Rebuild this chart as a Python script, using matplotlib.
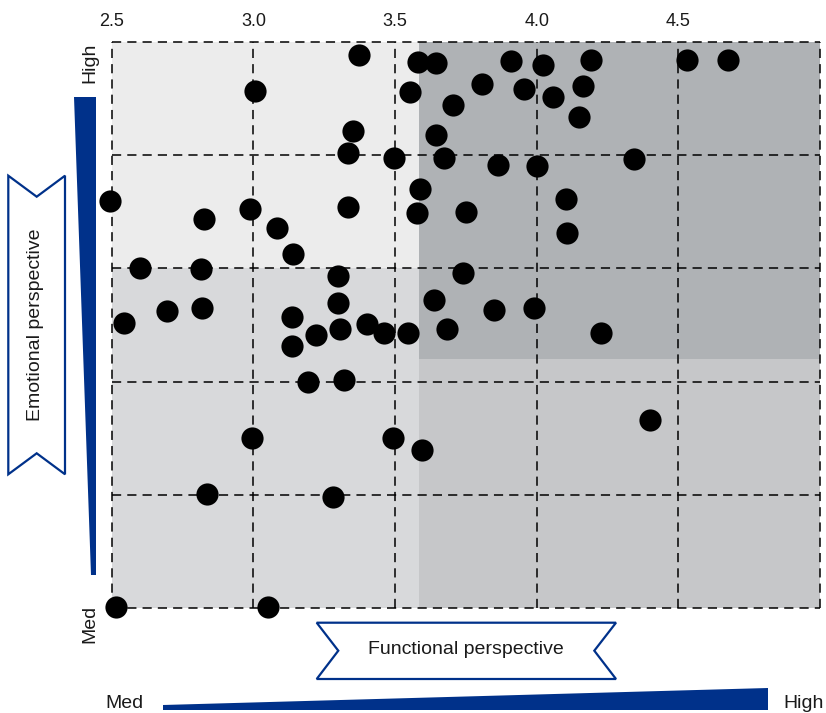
import matplotlib
matplotlib.use("Agg")
import matplotlib.pyplot as plt
from matplotlib.patches import Polygon

plt.rcParams['font.family'] = ['Liberation Sans', 'DejaVu Sans']

# ---- data ----
functional = [3.373, 3.006, 3.350, 3.333, 3.496, 2.494, 2.988, 2.825, 3.333, 3.084,
              3.141, 2.599, 2.814, 3.299, 2.694, 2.819, 2.542, 3.299, 3.135, 3.220,
              3.305, 3.400, 3.462, 3.547, 3.135, 3.192, 3.321, 2.994, 3.492, 3.594,
              2.836, 3.282, 2.514, 3.050, 4.400, 3.582, 3.643, 3.909, 4.023, 4.191,
              4.531, 4.676, 3.553, 3.807, 3.954, 4.163, 4.056, 3.705, 4.148, 3.643,
              3.672, 3.864, 4.000, 4.344, 3.588, 3.576, 3.751, 4.102, 4.108, 3.741,
              3.638, 3.848, 3.989, 3.683, 4.227]
emotional = [4.941, 4.785, 4.608, 4.508, 4.489, 4.299, 4.262, 4.220, 4.270, 4.177,
             4.065, 4.000, 3.996, 3.966, 3.811, 3.825, 3.760, 3.846, 3.784, 3.706,
             3.732, 3.754, 3.713, 3.713, 3.659, 3.500, 3.506, 3.252, 3.252, 3.197,
             3.005, 2.992, 2.504, 2.504, 3.330, 4.913, 4.906, 4.915, 4.898, 4.920,
             4.920, 4.920, 4.780, 4.814, 4.794, 4.807, 4.757, 4.722, 4.667, 4.588,
             4.486, 4.458, 4.451, 4.483, 4.351, 4.243, 4.249, 4.305, 4.156, 3.981,
             3.862, 3.818, 3.825, 3.732, 3.713]
x_ticks = [2.5, 3.0, 3.5, 4.0, 4.5]
x_tick_labels = ["2.5", "3.0", "3.5", "4.0", "4.5"]
grid_x = [2.5, 3.0, 3.5, 4.0, 4.5, 5.0]
grid_y = [2.5, 3.0, 3.5, 4.0, 4.5, 5.0]
x_split = 3.585      # functional threshold of shaded zones
y_split_left = 4.0   # emotional threshold (left zone)
y_split_right = 3.6  # emotional threshold (right zone)

W, H = 826, 713
fig = plt.figure(figsize=(W / 100, H / 100), dpi=100)
ax = fig.add_axes([111.7 / W, 1 - 608 / H, (820 - 111.7) / W, (608 - 42) / H])
ax.set_xlim(2.5, 5.0)
ax.set_ylim(2.5, 5.0)

# shaded zones
ax.fill_between([2.5, x_split], 2.5, y_split_left, color="#d8d9db", lw=0, zorder=0)
ax.fill_between([2.5, x_split], y_split_left, 5.0, color="#ececec", lw=0, zorder=0)
ax.fill_between([x_split, 5.0], y_split_right, 5.0, color="#afb2b5", lw=0, zorder=0)
ax.fill_between([x_split, 5.0], 2.5, y_split_right, color="#c6c7c9", lw=0, zorder=0)

# dashed grid
for gx in grid_x:
    ax.axvline(gx, color="black", lw=1.1, ls=(0, (6, 4)), zorder=1, clip_on=False)
for gy in grid_y:
    ax.axhline(gy, color="black", lw=1.1, ls=(0, (6, 4)), zorder=1, clip_on=False)

ax.scatter(functional, emotional, s=255, color="black", zorder=3, clip_on=False, lw=0)

for sp in ax.spines.values():
    sp.set_visible(False)
ax.xaxis.tick_top()
ax.set_xticks(x_ticks)
ax.set_xticklabels(x_tick_labels, fontsize=13, color="#1a1a1a")
ax.tick_params(axis="x", length=0, pad=8.8)
ax.set_yticks([])

def P(x, y):
    return (x / W, 1 - y / H)

blue = "#00318a"
FS = 14

# vertical wedge
fig.add_artist(Polygon([P(74, 97), P(96, 97), P(96, 575), P(91, 575)],
                       closed=True, transform=fig.transFigure, color=blue, lw=0))
# horizontal wedge
fig.add_artist(Polygon([P(163, 705), P(768, 688), P(768, 710), P(163, 710)],
                       closed=True, transform=fig.transFigure, color=blue, lw=0))

# emotional banner (vertical ribbon)
fig.add_artist(Polygon([P(8.3, 175.7), P(36.7, 196.7), P(65, 175.7), P(65, 474.3),
                        P(36.7, 453.3), P(8.3, 474.3)],
                       closed=True, transform=fig.transFigure, facecolor="white",
                       edgecolor=blue, lw=1.6))
fig.text(*P(36, 325), "Emotional perspective", rotation=90, ha="center", va="center",
         fontsize=FS, color="#1a1a1a")

# functional banner (horizontal ribbon)
fig.add_artist(Polygon([P(316.7, 622.7), P(616, 622.7), P(594.3, 650.7), P(616, 679),
                        P(316.7, 679), P(338.3, 650.7)],
                       closed=True, transform=fig.transFigure, facecolor="white",
                       edgecolor=blue, lw=1.6))
fig.text(*P(466, 650), "Functional perspective", ha="center", va="center",
         fontsize=FS, color="#1a1a1a")

# axis end labels
fig.text(*P(89.5, 43), "High", rotation=90, ha="center", va="top", fontsize=FS, color="#1a1a1a")
fig.text(*P(89.5, 605), "Med", rotation=90, ha="center", va="top", fontsize=FS, color="#1a1a1a")
fig.text(*P(105, 704), "Med", ha="left", va="center", fontsize=FS, color="#1a1a1a")
fig.text(*P(783, 704), "High", ha="left", va="center", fontsize=FS, color="#1a1a1a")

fig.savefig("out.png", dpi=100)
